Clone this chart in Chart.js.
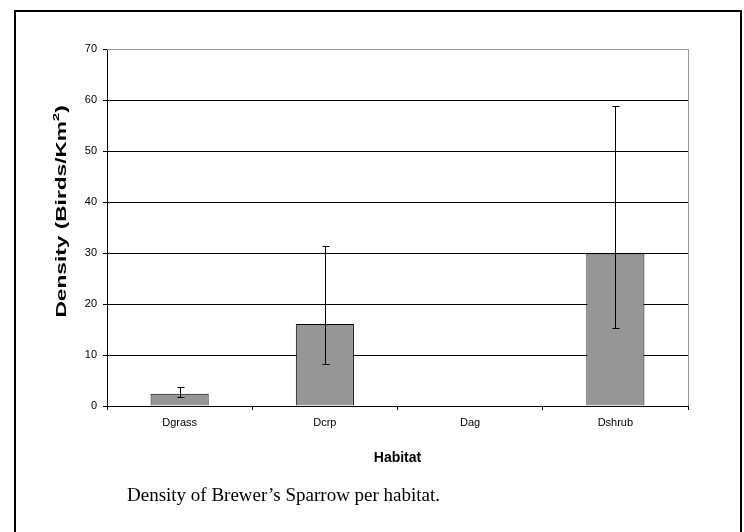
<!DOCTYPE html>
<html>
<head>
<meta charset="utf-8">
<script src="https://cdn.jsdelivr.net/npm/chart.js@4"></script>
<style>
  html, body { margin: 0; padding: 0; background: #fff; }
  .page { position: relative; width: 744px; height: 532px; overflow: hidden; }
  .frame {
    position: absolute; left: 14px; top: 10px; width: 728px; height: 540px;
    border: 2px solid #000; box-sizing: border-box;
  }
  #chart { position: absolute; left: 0; top: 0; }
  .caption {
    position: absolute; left: 127px; top: 484px;
    font-family: "Liberation Serif", "Times New Roman", serif;
    font-size: 19px; color: #000; white-space: nowrap;
  }
</style>
</head>
<body>
<div class="page">
  <div class="frame"></div>
  <canvas id="chart" width="744" height="532"></canvas>
  <div class="caption">Density of Brewer’s Sparrow per habitat.</div>
</div>
<script>
const habitats = ['Dgrass', 'Dcrp', 'Dag', 'Dshrub'];
const density = [2.4, 16.1, 0, 29.9];
const errLow = [1.8, 8.2, 0, 15.2];
const errHigh = [3.7, 31.4, 0, 58.9];
const yTicks = [0, 10, 20, 30, 40, 50, 60, 70];
const yTitle = 'Density (Birds/Km';
const yTitleSup = '2';

// error bars drawn on top of the bars, using the y scale
const errorBars = {
  id: 'errorBars',
  afterDatasetsDraw(chart) {
    const ctx = chart.ctx;
    const meta = chart.getDatasetMeta(0);
    const y = chart.scales.y;
    ctx.save();
    ctx.strokeStyle = '#000';
    ctx.lineWidth = 1;
    meta.data.forEach((bar, i) => {
      if (errHigh[i] === errLow[i]) return;
      const x = Math.round(bar.x) + 0.5;
      const top = Math.round(y.getPixelForValue(errHigh[i])) + 0.5;
      const bottom = Math.round(y.getPixelForValue(errLow[i])) + 0.5;
      ctx.beginPath();
      ctx.moveTo(x, top);
      ctx.lineTo(x, bottom);
      ctx.moveTo(x - 3, top);
      ctx.lineTo(x + 4, top);
      ctx.moveTo(x - 3, bottom);
      ctx.lineTo(x + 4, bottom);
      ctx.stroke();
    });
    ctx.restore();
  }
};

// grey frame on the top and right of the plot area
const plotFrame = {
  id: 'plotFrame',
  afterDraw(chart) {
    const a = chart.chartArea;
    const ctx = chart.ctx;
    ctx.save();
    ctx.strokeStyle = '#999';
    ctx.lineWidth = 1;
    ctx.beginPath();
    ctx.moveTo(a.left, Math.round(a.top) + 0.5);
    ctx.lineTo(Math.round(a.right) + 0.5, Math.round(a.top) + 0.5);
    ctx.lineTo(Math.round(a.right) + 0.5, a.bottom);
    ctx.stroke();
    ctx.restore();
  }
};

// rotated y axis title, drawn wide, with a superscript 2
const yAxisTitle = {
  id: 'yAxisTitle',
  afterDraw(chart) {
    const a = chart.chartArea;
    const ctx = chart.ctx;
    const stretch = 1.62;
    ctx.save();
    ctx.fillStyle = '#000';
    ctx.textBaseline = 'middle';
    ctx.font = 'bold 14px "Liberation Sans", Arial, sans-serif';
    const w1 = ctx.measureText(yTitle).width;
    ctx.font = 'bold 9px "Liberation Sans", Arial, sans-serif';
    const w2 = ctx.measureText(yTitleSup).width;
    ctx.font = 'bold 14px "Liberation Sans", Arial, sans-serif';
    const w3 = ctx.measureText(')').width;
    const total = w1 + w2 + w3;
    const cx = a.left - 45;
    const cy = a.top + (a.bottom - a.top) * 0.455;
    ctx.translate(cx, cy);
    ctx.rotate(-Math.PI / 2);
    ctx.scale(stretch, 1);
    let x = -total / 2;
    ctx.textAlign = 'left';
    ctx.fillText(yTitle, x, 0);
    x += w1;
    ctx.font = 'bold 9px "Liberation Sans", Arial, sans-serif';
    ctx.fillText(yTitleSup, x, -5);
    x += w2;
    ctx.font = 'bold 14px "Liberation Sans", Arial, sans-serif';
    ctx.fillText(')', x, 0);
    ctx.restore();
  }
};

new Chart(document.getElementById('chart'), {
  type: 'bar',
  data: {
    labels: habitats,
    datasets: [{
      data: density,
      backgroundColor: '#969696',
      borderColor: '#000',
      borderWidth: 1,
      barPercentage: 0.4,
      categoryPercentage: 1.0
    }]
  },
  options: {
    responsive: false,
    animation: false,
    layout: { padding: { left: 46, right: 56, top: 49, bottom: 65 } },
    plugins: { legend: { display: false }, tooltip: { enabled: false } },
    scales: {
      x: {
        grid: { display: true, drawOnChartArea: false, drawTicks: true, tickLength: 4, color: '#000', offset: true },
        border: { color: '#000', width: 1 },
        ticks: { color: '#000', font: { family: 'Liberation Sans, Arial', size: 11 }, padding: 6, maxRotation: 0 },
        title: { display: true, text: 'Habitat', color: '#000', font: { family: 'Liberation Sans, Arial', size: 14, weight: 'bold' }, padding: { top: 15, bottom: 0 } }
      },
      y: {
        min: 0, max: 70,
        afterBuildTicks(scale) { scale.ticks = yTicks.map(v => ({ value: v })); },
        afterFit(scale) { scale.width = 61; },
        grid: { color: (c) => c.tick && c.tick.value === 70 ? '#999' : '#000', tickColor: '#000', tickLength: 4, drawTicks: true },
        border: { color: '#000', width: 1 },
        ticks: { color: '#000', font: { family: 'Liberation Sans, Arial', size: 11 }, padding: 6 },
        title: { display: false }
      }
    }
  },
  plugins: [errorBars, plotFrame, yAxisTitle]
});
</script>
</body>
</html>
